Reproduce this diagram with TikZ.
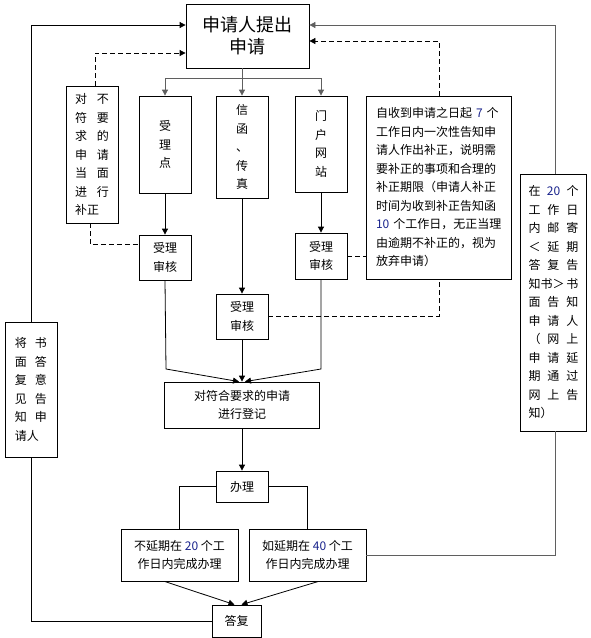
\documentclass[tikz,border=0pt]{standalone}
\usepackage{fontspec}
\setmainfont{Noto Sans CJK SC}
\usepackage{xcolor}
\usepackage{tikz}
\usetikzlibrary{arrows.meta, positioning, calc}
\definecolor{flowgray}{RGB}{95, 95, 95}
\definecolor{numblue}{RGB}{25, 35, 140}
\newcommand{\digits}[1]{\textcolor{numblue}{#1}}
\newcommand{\rowfill}[2]{\makebox[#1][s]{#2}}
\tikzset{
    box/.style={rectangle, draw, line width=0.8pt, inner sep=0pt, align=center, font=\fontsize{12}{18.5}\selectfont},
    line/.style={draw, line width=0.8pt, -{Triangle[length=6pt, width=6pt]}},
    plain/.style={draw, line width=0.8pt},
    dline/.style={draw, line width=0.8pt, dash pattern=on 5pt off 3pt}
}

\begin{document}
\begin{tikzpicture}[x=1pt, y=-1pt]
    \useasboundingbox (0,0) rectangle (591,638);

    % --- APPLICATION ---
    \node[box, minimum width=123pt, minimum height=64pt, font=\fontsize{18}{22}\selectfont] (apply) at (247.5,36) {申请人提出\\申请};

    % --- CHANNELS ---
    \node[box, minimum width=52pt, minimum height=97pt] (counter) at (165,144.5) {受\\理\\点};
    \node[box, minimum width=52pt, minimum height=102pt] (mail) at (242,147) {信\\函\\、\\传\\真};
    \node[box, minimum width=52pt, minimum height=96pt] (portal) at (321,144) {门\\户\\网\\站};

    \node[box, minimum width=52pt, minimum height=45pt] (checkA) at (165,257.5) {受理\\审核};
    \node[box, minimum width=52pt, minimum height=45pt] (checkB) at (242,316.5) {受理\\审核};
    \node[box, minimum width=52pt, minimum height=46pt] (checkC) at (321,256) {受理\\审核};

    % --- CORRECTION NOTES ---
    \node[box, minimum width=52pt, minimum height=137pt, text width=34pt, align=left] (onsite) at (92,154.5) {
        \rowfill{34pt}{对\hfil 不}\\ \rowfill{34pt}{符\hfil 要}\\ \rowfill{34pt}{求\hfil 的}\\
        \rowfill{34pt}{申\hfil 请}\\ \rowfill{34pt}{当\hfil 面}\\ \rowfill{34pt}{进\hfil 行}\\ 补正
    };
    \node[box, minimum width=145pt, minimum height=183pt, text width=126pt, align=left] (notice) at (439,187.5) {
        自收到申请之日起 \digits{7} 个\\
        工作日内一次性告知申\\
        请人作出补正，说明需\\
        要补正的事项和合理的\\
        补正期限（申请人补正\\
        时间为收到补正告知函\\
        \digits{10} 个工作日，无正当理\\
        由逾期不补正的，视为\\
        放弃申请）
    };

    % --- REGISTRATION AND HANDLING ---
    \node[box, minimum width=155pt, minimum height=46pt] (register) at (242,405) {对符合要求的申请\\进行登记};
    \node[box, minimum width=52pt, minimum height=31pt] (handle) at (242,486.5) {办理};
    \node[box, minimum width=117pt, minimum height=52pt] (normal) at (179.5,555) {不延期在 \digits{20} 个工\\作日内完成办理};
    \node[box, minimum width=117pt, minimum height=52pt] (extended) at (307.5,555) {如延期在 \digits{40} 个工\\作日内完成办理};
    \node[box, minimum width=49pt, minimum height=32pt] (reply) at (236.5,621) {答复};

    % --- SIDE NOTES ---
    \node[box, minimum width=52pt, minimum height=135pt, text width=32pt, align=left] (inform) at (31,389.5) {
        \rowfill{32pt}{将\hfil 书}\\ \rowfill{32pt}{面\hfil 答}\\ \rowfill{32pt}{复\hfil 意}\\
        \rowfill{32pt}{见\hfil 告}\\ \rowfill{32pt}{知\hfil 申}\\ 请人
    };
    \node[box, minimum width=66pt, minimum height=257pt, text width=50pt, align=left] (delaynote) at (553.5,302.5) {
        \rowfill{50pt}{在\hfil\digits{20}\hfil 个}\\ \rowfill{50pt}{工\hfil 作\hfil 日}\\
        \rowfill{50pt}{内\hfil 邮\hfil 寄}\\ \rowfill{50pt}{＜\hfil 延\hfil 期}\\
        \rowfill{50pt}{答\hfil 复\hfil 告}\\ \rowfill{50pt}{知书＞\hfil 书}\\
        \rowfill{50pt}{面\hfil 告\hfil 知}\\ \rowfill{50pt}{申\hfil 请\hfil 人}\\
        \rowfill{50pt}{（\hfil 网\hfil 上}\\ \rowfill{50pt}{申\hfil 请\hfil 延}\\
        \rowfill{50pt}{期\hfil 通\hfil 过}\\ \rowfill{50pt}{网\hfil 上\hfil 告}\\ 知）
    };

    % Bends of the connectors
    \coordinate (fork) at (242,78);
    \coordinate (joinA) at (166,369);
    \coordinate (joinC) at (321,369);

    % Fork to the three channels
    \draw[line, flowgray] (apply.south -| mail) -- (mail.north);
    \draw[line, flowgray] (fork) -| (counter.north);
    \draw[line, flowgray] (fork) -| (portal.north);

    \draw[line] (counter) -- (checkA);
    \draw[line] (mail) -- (checkB);
    \draw[line] (portal) -- (checkC);

    % Merge into registration
    \draw[line] (checkA.south) -- (joinA) -- ([xshift=-3pt]register.north);
    \draw[line] (checkB) -- (register);
    \draw[line] (checkC.south) -- (joinC) -- ([xshift=3pt]register.north);

    \draw[line] (register) -- (handle);
    \draw[plain] (handle.west) -| (normal.north);
    \draw[plain] (handle.east) -| (extended.north);
    \draw[line] ([xshift=-15pt]normal.south) -- ([xshift=-2pt]reply.north);
    \draw[line] ([xshift=11pt]extended.south) -- ([xshift=5pt]reply.north);

    % Returns to the applicant
    \draw[plain] (reply.west) -| (inform.south);
    \draw[line] (inform.north) |- ([yshift=11pt]apply.west);
    \draw[plain, flowgray] (extended.east) -| ([xshift=2pt]delaynote.south);
    \draw[line, flowgray] ([xshift=2pt]delaynote.north) |- ([yshift=11pt]apply.east);

    % Requests for correction (dashed)
    \draw[dline, -{Triangle[length=6pt, width=6pt]}] ([xshift=3pt]onsite.north) |- ([yshift=-17pt]apply.west);
    \draw[dline] ([xshift=-2pt]onsite.south) |- ([yshift=13pt]checkA.west);
    \draw[dline] (checkC.east) -- (checkC.east -| notice.west);
    \draw[dline] (checkB.east) -| (notice.south);
    \draw[dline, -{Triangle[length=6pt, width=6pt]}] (notice.north) |- ([yshift=-5pt]apply.east);

\end{tikzpicture}
\end{document}
